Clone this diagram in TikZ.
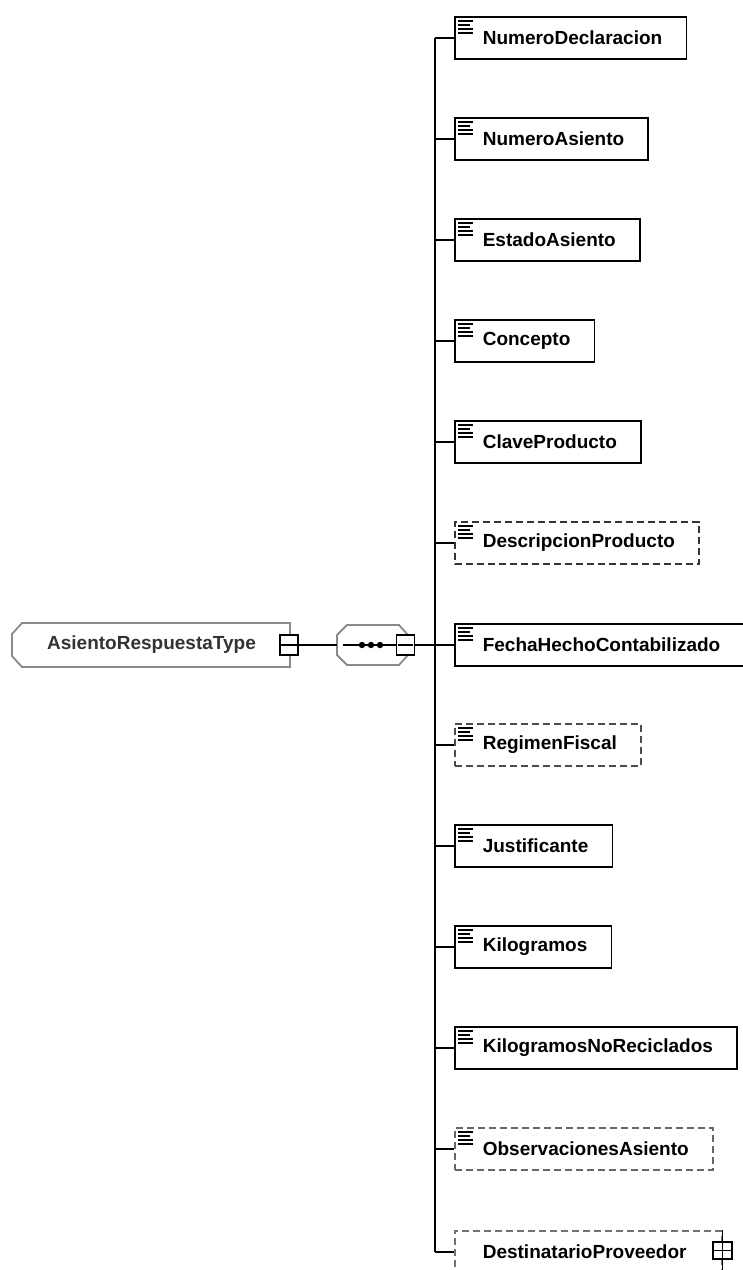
\documentclass[tikz,border=0pt]{standalone}
\usepackage{fontspec}
\setmainfont{Liberation Sans}
\newfontfamily\elfontfam{Liberation Sans}
\newcommand{\elfont}{\elfontfam\bfseries\fontsize{19}{22}\selectfont}
\definecolor{frame}{HTML}{8A8A8A}
\definecolor{txtgray}{HTML}{333333}
\begin{document}
\begin{tikzpicture}[x=1pt,y=-1pt,
  elem/.style={draw=black, line width=1.6pt, minimum height=42pt, inner xsep=0pt, inner ysep=0pt,
     anchor=west, font=\elfont, text=black,
     execute at begin node={\hspace*{28pt}}, execute at end node={\hspace*{24pt}}},
  icon/.style={path picture={
     \foreach \yy/\ll in {4/18,8/15,12/18,16/18}
       \draw[line width=1.3pt, black, solid] ([shift={(3,\yy)}]path picture bounding box.north west) -- ++(\ll-3,0);}},
  opt/.style={dash pattern=on 7pt off 4pt},
  pmbox/.style={draw=black, fill=white, line width=1.3pt, minimum width=18pt, minimum height=20pt, inner sep=0pt},
  conn/.style={line width=1.6pt, black},
  grayframe/.style={draw=frame, line width=1.8pt}
]
\clip (0,0) rectangle (743,1270);
\fill[white] (0,0) rectangle (743,1270);

% complex type
\node[font=\elfont, text=txtgray, inner sep=0pt] (ct) at (151.5,645) {AsientoRespuestaType};
\draw[grayframe] (22,623) -- (290,623) -- (290,667) -- (22,667) -- (12,656) -- (12,634) -- cycle;
\node[pmbox] (ctm) at (289,645) {};
\draw[line width=1.3pt] ([xshift=2pt]ctm.west) -- ([xshift=-2pt]ctm.east);

% sequence compositor
\node[minimum width=71pt, minimum height=40pt, inner sep=0pt] (seq) at (372.5,645) {};
\draw[grayframe] (347,625) -- (399,625) -- (408,635) -- (408,655) -- (399,665) -- (347,665) -- (337,655) -- (337,635) -- cycle;
\coordinate (sqa) at (343,645);
\coordinate (sqb) at (396,645);
\draw[conn] (sqa) -- (sqb);
\foreach \xx in {362,371,380} \fill (\xx,645) circle (3.2pt);
\node[pmbox] (sqm) at (405.5,645) {};
\draw[line width=1.3pt] ([xshift=2pt]sqm.west) -- ([xshift=-2pt]sqm.east);

\draw[conn] (ctm.east) -- (seq.west);

% elements
\node[elem, icon] (e0) at (454,38) {NumeroDeclaracion};
\node[elem, icon] (e1) at (454,139) {NumeroAsiento};
\node[elem, icon] (e2) at (454,240) {EstadoAsiento};
\node[elem, icon] (e3) at (454,341) {Concepto};
\node[elem, icon] (e4) at (454,442) {ClaveProducto};
\node[elem, icon, opt, draw=black!80] (e5) at (454,543) {DescripcionProducto};
\node[elem, icon] (e6) at (454,645) {FechaHechoContabilizado};
\node[elem, icon, opt, draw=black!70] (e7) at (454,745) {RegimenFiscal};
\node[elem, icon] (e8) at (454,846) {Justificante};
\node[elem, icon] (e9) at (454,947) {Kilogramos};
\node[elem, icon] (e10) at (454,1048) {KilogramosNoReciclados};
\node[elem, icon, opt, draw=black!60] (e11) at (454,1149) {ObservacionesAsiento};
\node[elem, opt, draw=black!55, execute at end node={\hspace*{11pt}}] (e12) at (454,1252) {DestinatarioProveedor};

% bus
\coordinate (bus) at (435,645);
\draw[conn] (sqm.east) -- (e6.west);
\draw[conn] (bus |- e0.west) -- (bus |- e12.west);
\foreach \i in {0,...,12} \draw[conn] (bus |- e\i.west) -- (e\i.west);

% expand box of DestinatarioProveedor
\coordinate (exptop) at (e12.north east);
\coordinate (expbot) at ([yshift=-30pt]e12.east);
\draw[line width=1.3pt] (exptop) -- (expbot);
\node[pmbox, minimum width=19pt, minimum height=17pt] (plus) at ([yshift=1.5pt]e12.east) {};
\draw[line width=1.3pt] ([xshift=2pt]plus.west) -- ([xshift=-2pt]plus.east);
\draw[line width=1.3pt] (plus.north) -- (plus.south);
\end{tikzpicture}
\end{document}
